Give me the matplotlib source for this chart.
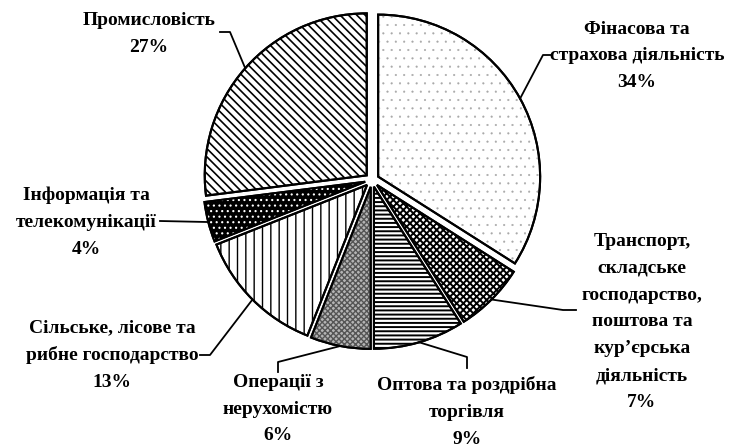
import numpy as np
import matplotlib
matplotlib.use("Agg")
import matplotlib.pyplot as plt
from matplotlib.patches import Wedge

labels = ["Фінасова та\nстрахова діяльність\n34%",
          "Транспорт,\nскладське\nгосподарство,\nпоштова та\nкур’єрська\nдіяльність\n7%",
          "Оптова та роздрібна\nторгівля\n9%",
          "Операції з\nнерухомістю\n6%",
          "Сільське, лісове та\nрибне господарство\n13%",
          "Інформація та\nтелекомунікації\n4%",
          "Промисловість\n27%"]
shares = [34, 7, 9, 6, 13, 4, 27]

# styling per slice
hatches = ["..", "xxxxx", "----", "xxxxxx", "||", "...", "\\\\\\\\"]
faces = ["white", "white", "white", "#b5b5b5", "white", "black", "white"]
hatch_cols = ["#a8a8a8", "black", "black", "#555555", "black", "white", "black"]
hatch_lw = [0.3, 1.4, 1.4, 1.0, 1.0, 0.8, 1.2]

# label layout in pixels (x, y from top): text centre, then leader path points
text_pos = [(637, 56), (642, 322), (467, 412), (278, 409), (112, 355), (86, 222), (149, 34)]
leaders = [[(543, 55), (552, 55)],
           [(563, 310), (576, 310)],
           [(467, 357), (467, 368)],
           [(278, 362), (278, 372)],
           [(210, 355), (200, 355)],
           [(160, 221)],
           [(230, 32), (220, 32)]]

W, H = 732, 446
plt.rcParams["font.family"] = ["Liberation Serif", "DejaVu Serif"]
plt.rcParams["hatch.linewidth"] = 1.2

fig = plt.figure(figsize=(W / 100, H / 100), dpi=100)
ax = fig.add_axes([0, 0, 1, 1])

cx, cy, R = 372, H - 180, 162
wedges, _ = ax.pie(shares, startangle=90, counterclock=False, radius=R,
                   center=(cx, cy), explode=[7] * len(shares),
                   wedgeprops=dict(edgecolor="black", linewidth=1.5))

for w, h, fc, hc, hl in zip(wedges, hatches, faces, hatch_cols, hatch_lw):
    w.set_facecolor(fc)
    plt.rcParams["hatch.linewidth"] = hl
    over = Wedge(w.center, w.r, w.theta1, w.theta2, facecolor="none",
                 edgecolor=hc, linewidth=0, hatch=h, zorder=w.get_zorder() + 0.1)
    if hasattr(over, "set_hatch_linewidth"):
        over.set_hatch_linewidth(hl)
    ax.add_patch(over)
    outline = Wedge(w.center, w.r, w.theta1, w.theta2, facecolor="none",
                    edgecolor="black", linewidth=1.5, zorder=w.get_zorder() + 0.2)
    ax.add_patch(outline)

for w, lab, tp, pts in zip(wedges, labels, text_pos, leaders):
    mid = np.deg2rad((w.theta1 + w.theta2) / 2)
    ax0 = w.center[0] + w.r * np.cos(mid)
    ay0 = w.center[1] + w.r * np.sin(mid)
    xs = [ax0] + [p[0] for p in pts]
    ys = [ay0] + [H - p[1] for p in pts]
    ax.plot(xs, ys, color="black", lw=1.3, zorder=5)
    ax.text(tp[0], H - tp[1], lab, ha="center", va="center", fontsize=14,
            fontweight="bold", linespacing=1.75)

ax.set_xlim(0, W)
ax.set_ylim(0, H)
ax.set_aspect("equal")
ax.axis("off")
fig.savefig("out.png", dpi=100)
